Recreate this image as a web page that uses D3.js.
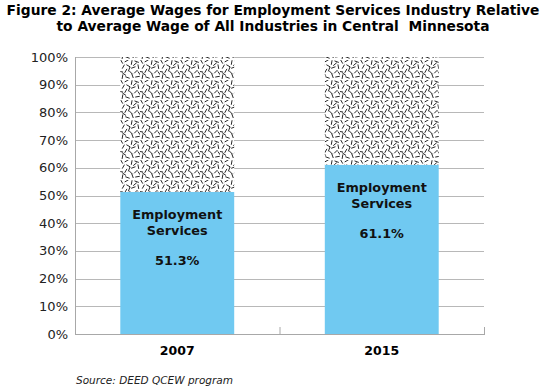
<!DOCTYPE html>
<html lang="en">
<head>
  <meta charset="UTF-8">
  <title>Figure 2: Average Wages for Employment Services</title>
  <style>
    body { margin: 0; background: #fff; }
    svg { display: block; font-family: "DejaVu Sans", Verdana, sans-serif; }
    .title { font-size: 13.8px; font-weight: bold; fill: #000; white-space: pre; }
    .ytick { font-size: 13px; fill: #222; }
    .xlab { font-size: 12.5px; font-weight: bold; fill: #000; }
    .inbar { font-size: 12.8px; font-weight: bold; fill: #111; }
    .source { font-size: 10.5px; font-style: italic; fill: #222; }
    .grid line { stroke: #b8b8b8; stroke-width: 1px; }
  </style>
</head>
<body>
  <svg id="chart"></svg>

  <script src="https://d3js.org/d3.v7.min.js"></script>
  <script>
    // --- data ---
    const years = ["2007", "2015"];
    const empShare = [51.3, 61.1];          // employment services, % of all-industry wage
    const restShare = [48.7, 38.9];         // remainder up to 100%
    const yTicks = [0, 10, 20, 30, 40, 50, 60, 70, 80, 90, 100];
    const titleLines = [
      "Figure 2: Average Wages for Employment Services Industry Relative",
      "to Average Wage of All Industries in Central  Minnesota"
    ];
    const sourceText = "Source: DEED QCEW program";

    // --- layout ---
    const width = 546, height = 387;
    const plot = { left: 75, right: 484, top: 57, bottom: 334 };

    const svg = d3.select("#chart").attr("width", width).attr("height", height);

    const x = d3.scaleBand()
      .domain(years)
      .range([plot.left, plot.right])
      .paddingInner(0.443)
      .paddingOuter(0.2215);

    const y = d3.scaleLinear().domain([0, 100]).range([plot.bottom, plot.top]);

    // confetti pattern for the remainder part
    const tile = 20;
    const defs = svg.append("defs");
    const pat = defs.append("pattern")
      .attr("id", "confetti")
      .attr("patternUnits", "userSpaceOnUse")
      .attr("width", tile).attr("height", tile);
    pat.append("rect").attr("width", tile).attr("height", tile).attr("fill", "#fff");
    const dashes = [
      [2, 2, 60], [8, 1, -30], [14, 3, 100], [20, 2, 20],
      [4, 8, -60], [10, 7, 30], [16, 9, -20], [22, 8, 80],
      [1, 14, 10], [7, 13, 120], [13, 15, 45], [19, 14, -45],
      [3, 20, -80], [9, 21, 20], [15, 19, 70], [21, 20, -10],
      [11, 11, -70], [5, 17, 35], [18, 5, 140], [23, 16, 55]
    ];
    const k = tile / 24;
    pat.selectAll("line").data(dashes).join("line")
      .attr("x1", d => d[0] * k - 2.3 * Math.cos(d[2] * Math.PI / 180))
      .attr("y1", d => d[1] * k - 2.3 * Math.sin(d[2] * Math.PI / 180))
      .attr("x2", d => d[0] * k + 2.3 * Math.cos(d[2] * Math.PI / 180))
      .attr("y2", d => d[1] * k + 2.3 * Math.sin(d[2] * Math.PI / 180))
      .attr("stroke", "#000").attr("stroke-width", 0.85)
      .attr("stroke-linecap", "butt");

    // title
    svg.append("g").selectAll("text").data(titleLines).join("text")
      .attr("class", "title")
      .attr("x", width / 2)
      .attr("y", (d, i) => 15 + i * 16)
      .attr("text-anchor", "middle")
      .text(d => d);

    // gridlines
    svg.append("g").attr("class", "grid")
      .selectAll("line").data(yTicks.filter(t => t > 0)).join("line")
      .attr("x1", plot.left).attr("x2", plot.right)
      .attr("y1", d => Math.round(y(d)) + 0.5).attr("y2", d => Math.round(y(d)) + 0.5);

    // y axis labels
    svg.append("g").selectAll("text").data(yTicks).join("text")
      .attr("class", "ytick")
      .attr("x", 68)
      .attr("y", d => y(d) + 4.5)
      .attr("text-anchor", "end")
      .text(d => d + "%");

    const rows = years.map((yr, i) => ({ yr, emp: empShare[i], rest: restShare[i] }));

    // bars
    const bars = svg.append("g");
    bars.selectAll("rect.emp").data(rows).join("rect")
      .attr("class", "emp")
      .attr("x", d => x(d.yr)).attr("width", x.bandwidth())
      .attr("y", d => y(d.emp)).attr("height", d => y(0) - y(d.emp))
      .attr("fill", "#70c9f1");
    bars.selectAll("rect.rest").data(rows).join("rect")
      .attr("class", "rest")
      .attr("x", d => x(d.yr)).attr("width", x.bandwidth())
      .attr("y", d => y(d.emp + d.rest)).attr("height", d => y(d.emp) - y(d.emp + d.rest))
      .attr("fill", "url(#confetti)");

    // axes lines
    const axisColor = "#a8a8a8";
    svg.append("line")
      .attr("x1", plot.left + 0.5).attr("x2", plot.left + 0.5)
      .attr("y1", plot.top).attr("y2", plot.bottom)
      .attr("stroke", axisColor);
    svg.append("line")
      .attr("x1", plot.left).attr("x2", plot.right + 1)
      .attr("y1", plot.bottom + 0.5).attr("y2", plot.bottom + 0.5)
      .attr("stroke", axisColor);
    // category separator ticks (pointing up)
    const step = x.step();
    svg.append("g").selectAll("line").data([1, 2]).join("line")
      .attr("x1", d => plot.left + d * step + 0.5).attr("x2", d => plot.left + d * step + 0.5)
      .attr("y1", plot.bottom - 7).attr("y2", plot.bottom)
      .attr("stroke", axisColor);

    // in-bar labels
    const lbl = svg.append("g");
    rows.forEach(d => {
      const cx = x(d.yr) + x.bandwidth() / 2;
      const top = y(d.emp);
      lbl.append("text").attr("class", "inbar").attr("x", cx).attr("y", top + 27)
        .attr("text-anchor", "middle").text("Employment");
      lbl.append("text").attr("class", "inbar").attr("x", cx).attr("y", top + 43)
        .attr("text-anchor", "middle").text("Services");
      lbl.append("text").attr("class", "inbar").attr("x", cx).attr("y", top + 73)
        .attr("text-anchor", "middle").text(d.emp.toFixed(1) + "%");
    });

    // x labels
    svg.append("g").selectAll("text").data(years).join("text")
      .attr("class", "xlab")
      .attr("x", d => x(d) + x.bandwidth() / 2)
      .attr("y", 355)
      .attr("text-anchor", "middle")
      .text(d => d);

    // source
    svg.append("text").attr("class", "source")
      .attr("x", 76).attr("y", 384)
      .text(sourceText);
  </script>
</body>
</html>
